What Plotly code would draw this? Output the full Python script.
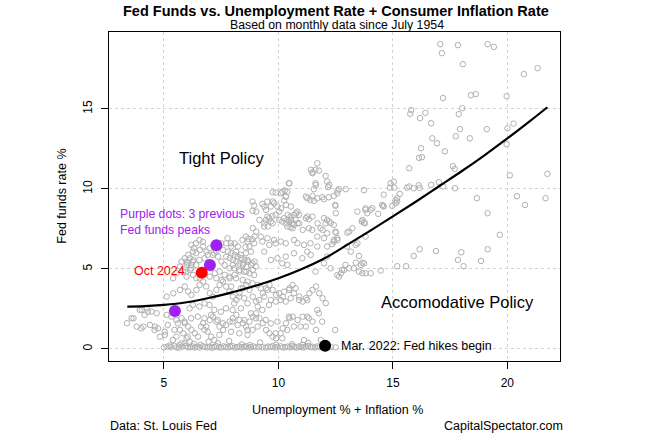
import plotly.graph_objects as go

# ---------------- data ----------------
# x = unemployment % + inflation %, y = fed funds rate %
hi_rate_x = [17.07,17.14,17.84,19.14,19.41,18.06,20.72,21.32,17.19,18.41,
             18.62,19.97,15.80,15.76,16.42,16.19,16.67,18.03,17.88,17.93,
             19.10,20.01,20.27,19.97,16.72,16.93,17.75,18.36,16.23,17.27,
             16.14,16.27,15.71,17.62,17.70,20.11,21.75,17.01,17.71,18.67,
             20.42,21.67,20.77,19.14,19.67,19.14,18.85,17.99,17.84,18.09,
             16.88,16.17,15.91,15.19,15.58,14.47,12.48]
hi_rate_y = [19.04,18.48,18.98,19.04,18.87,17.79,17.17,17.54,15.67,15.85,
             15.92,15.79,14.92,14.69,14.75,14.42,14.10,15.04,14.67,13.73,
             13.73,13.79,14.08,12.79,13.16,12.85,13.29,13.16,12.54,12.35,
             11.94,11.98,11.29,11.42,11.25,10.85,10.94,10.42,10.04,9.42,
             9.54,9.42,9.00,8.48,7.13,6.23,5.50,6.04,5.56,5.17,
             6.12,6.23,5.81,5.17,5.17,4.90,1.19]

mid_right_x = [12.22,12.58,12.94,13.74,14.90,15.04,14.87,15.06,14.60,15.30,
               15.62,15.91,16.17,15.71,16.13,16.67,17.20,15.12,15.19,15.12,
               14.53,14.60,14.10,14.03,13.80,13.88,13.45,13.67,13.74,13.23,
               13.09,13.00,13.37,12.48,12.51,13.81,14.36,14.58,14.97,15.19,
               12.22,12.29,12.51,12.43,12.58,13.01,13.64,13.78,13.81,13.45,
               13.16,13.52,13.38,13.67,13.60,13.74,13.09,12.87,12.73,12.65,
               13.52,13.67,13.81,14.03,13.30,12.93,12.28,12.13,11.99]
mid_right_y = [10.25,9.90,9.98,9.92,10.35,10.45,10.08,10.08,9.64,9.69,
               10.08,10.04,10.06,10.15,10.23,10.25,10.15,9.31,9.21,9.10,
               9.00,8.90,8.80,8.69,8.69,8.48,8.58,8.06,7.90,7.54,
               7.33,6.40,6.50,9.00,8.48,8.79,8.44,8.94,8.94,9.42,
               7.96,7.85,7.27,6.71,6.81,7.27,7.96,7.85,7.02,6.60,
               6.08,5.81,5.39,5.39,5.25,5.35,5.04,4.94,4.73,4.52,
               4.83,4.73,4.73,4.73,5.04,5.25,5.04,5.77,5.35]

upper_x = [11.70,11.62,11.48,11.77,12.06,12.13,12.17,11.62,11.55,10.46,
           10.17,10.39,10.32,10.25,9.88,11.26,11.40,11.55,11.70,11.91,
           11.99,12.20,12.42,12.57,12.64,12.49,8.87,8.94,8.87,9.30,
           9.38,9.52,9.67,9.81,9.96,10.03,9.88,9.74,9.60,9.45,
           9.52,9.67,9.38,10.25,10.39,10.53,10.68,10.83,10.90,10.75,
           10.61,10.46,10.32,10.17,10.68,10.83,10.39,10.53,11.26,11.33,
           11.99,12.13,12.06,12.42,12.49,12.57,12.42,11.99,11.84,12.13,
           11.33,11.48,11.70,7.78,7.93,8.43,8.58,8.65,8.73,8.87,
           8.94,9.23,9.30,9.52,9.60,9.81,9.88,10.10,10.32,10.68,
           10.83,11.12,11.40,11.70,12.13,12.35,9.75,9.46,10.12,10.33,
           10.55,9.03,9.17,9.39,9.54,9.75,10.04,10.40,10.55,10.77,
           10.91,10.62,11.06,11.20,11.49,11.71,11.93,9.75,10.12,10.28,
           10.48,10.33,11.49,11.42,11.64,11.20,11.49]
upper_y = [11.60,11.20,11.04,11.14,10.81,10.46,10.12,10.35,9.98,10.35,
           9.83,9.83,9.52,9.27,9.77,9.42,9.31,9.25,9.42,9.48,
           9.35,9.48,9.56,9.73,9.98,8.94,9.21,8.96,8.63,9.06,
           8.90,9.21,8.90,9.10,8.90,8.58,8.38,8.31,8.17,8.06,
           8.27,7.96,7.65,8.17,8.06,8.27,8.38,8.58,8.38,8.06,
           7.85,7.96,7.85,7.96,7.75,7.85,7.65,7.60,8.27,8.10,
           8.17,8.06,7.85,7.75,7.33,6.92,6.81,6.92,7.54,7.23,
           7.54,7.44,7.02,6.92,6.60,6.81,7.02,6.71,6.40,6.85,
           6.60,7.02,6.71,6.92,6.50,6.81,6.60,6.71,6.60,6.81,
           6.60,6.50,6.60,6.40,6.40,6.55,9.21,8.69,8.79,9.00,
           8.90,8.58,8.06,7.85,7.65,7.85,8.06,8.38,8.06,8.48,
           7.85,7.54,7.44,8.17,8.27,7.85,7.44,9.79,9.73,9.90,
           10.35,9.52,10.98,11.19,10.25,9.52,9.56]

center_x = [8.69,8.56,8.96,9.03,8.88,8.09,8.23,7.94,7.72,7.58,
            7.80,7.94,8.09,8.23,8.38,8.52,8.67,7.72,7.87,8.01,
            8.16,8.30,8.45,8.60,8.81,8.96,8.88,8.74,8.60,8.01,
            7.87,7.65,7.51,7.36,7.29,7.14,7.00,6.86,6.71,6.57,
            6.42,6.28,6.13,5.99,8.15,8.36,8.58,8.80,8.44,8.65,
            8.87,9.02,8.07,8.29,8.51,8.94,7.86,8.15,8.44,8.65,
            8.87,9.09,7.93,8.36,9.38,9.67,9.96,10.17,10.39,10.32,
            10.68,11.04,11.41,11.26,11.62,12.57,12.78,5.70,5.84,5.99,
            6.13,6.27,6.42,6.56,6.71,5.99,6.20,5.77,6.56,6.78,
            7.00,7.22,7.43,7.65,7.87,8.09,8.30,7.29,7.51,7.07,
            5.55,5.40,6.04,6.26,6.41,6.55,6.77,6.91,7.20,6.19,
            5.97,5.91,6.06,6.27,6.40,6.55,6.30,6.70,6.20,7.50,
            7.30]
center_y = [6.88,6.36,7.02,7.33,7.54,6.60,6.40,6.40,6.60,6.19,
            6.08,5.98,5.88,5.77,5.67,5.56,5.46,5.77,5.67,5.56,
            5.46,5.35,5.25,5.14,5.25,5.46,4.94,4.73,4.83,5.25,
            5.04,5.25,5.46,5.77,6.08,5.88,6.29,6.08,6.40,6.19,
            5.98,5.56,5.67,5.46,6.08,5.88,5.98,6.08,5.35,5.56,
            5.35,5.15,5.04,4.94,4.83,4.62,4.52,4.42,4.31,4.21,
            4.10,4.00,3.90,3.79,6.08,5.56,5.67,5.35,5.25,5.77,
            5.98,5.67,5.88,6.08,4.83,4.62,4.94,5.15,4.84,4.52,
            4.94,4.63,4.42,4.73,4.94,5.25,5.25,5.46,4.42,4.63,
            4.52,4.73,4.84,4.63,4.42,4.63,4.84,4.42,4.31,5.04,
            4.73,4.42,5.35,5.46,5.25,5.56,5.67,5.88,5.98,5.04,
            4.83,5.67,5.88,6.08,6.60,6.80,6.30,6.70,6.50,6.60,
            6.45]

low_mid_x = [9.23,9.52,9.38,9.16,9.67,9.88,10.10,10.32,10.54,10.68,
             10.75,10.46,10.25,10.03,10.90,11.26,9.59,9.30,9.09,8.65,
             8.51,8.29,8.07,8.00,8.36,8.80,9.02,9.45,9.67,9.96,
             10.46,11.26,11.33,11.70,11.77,11.91,10.68,10.17,10.10,9.88,
             10.39,10.97,11.12,9.09,8.65,8.22,8.00,8.51,7.93,8.29,
             8.65,8.87]
low_mid_y = [3.79,3.69,3.27,3.06,3.06,2.96,3.06,2.96,3.17,3.48,
             3.79,3.69,3.58,3.48,3.06,3.06,2.75,2.44,2.65,2.85,
             3.17,3.27,2.85,2.44,2.54,2.23,1.92,1.81,1.60,1.71,
             2.02,2.02,1.92,2.44,2.23,1.71,1.40,0.67,0.98,0.98,
             1.19,1.40,0.56,1.40,1.19,1.50,1.71,1.81,1.08,0.98,
             0.88,1.19]

low_left_x = [3.38,3.67,3.81,4.10,4.39,4.61,4.83,5.04,4.03,4.25,
              4.46,4.68,5.12,5.33,5.55,5.77,5.91,6.06,6.20,6.35,
              6.49,5.70,5.84,5.55,5.99,6.13,5.77,6.71,6.85,7.00,
              7.14,7.29,7.43,7.58,7.72,7.87,8.01,8.16,8.30,8.45,
              8.59,8.74,8.88,9.03,9.17,9.32,9.46,9.61,9.75,9.90,
              10.19,10.33,10.48,10.62,10.84,11.06,11.49,11.20,11.64,11.85,
              3.58,4.01,4.59,4.74,5.03,5.17,5.39,5.68,5.90,6.04,
              6.62,6.77,6.91,7.06,7.20,7.42,5.46,5.61,5.90,6.19,
              6.48,6.77,7.06,7.35,7.57,6.12,6.26,6.55,6.77,6.99,
              7.20,7.49,7.71,4.30,4.16,3.94]
low_left_y = [1.61,1.92,1.40,1.40,1.50,1.40,0.77,0.88,2.44,2.54,
              2.34,2.23,2.13,2.02,1.81,1.92,1.61,1.40,1.19,0.98,
              0.77,1.19,0.98,0.77,0.67,0.46,0.36,1.61,1.40,1.81,
              2.02,1.71,1.40,1.19,1.50,1.71,1.92,2.13,1.81,1.61,
              1.40,1.71,2.02,2.23,1.92,1.61,1.19,0.98,0.77,0.67,
              1.29,1.61,1.92,2.02,1.81,2.02,1.71,1.40,1.19,0.56,
              1.92,1.29,1.19,1.29,1.08,1.50,0.56,0.25,0.35,0.77,
              1.40,1.19,1.08,0.77,0.56,0.88,1.19,1.60,1.71,1.92,
              2.02,1.92,2.13,1.81,1.60,2.54,2.75,2.65,2.85,2.75,
              2.44,2.33,2.54,2.33,2.13,2.44]

band_x = [5.12,5.41,5.70,5.91,6.06,6.20,6.42,6.56,6.71,6.85,
          7.00,7.14,7.29,7.43,7.58,7.72,7.87,8.01,8.16,8.30,
          8.45,8.59,8.74,8.88,9.03,9.32,9.46,9.61,9.75,9.90,
          10.19,10.48,10.62,10.91,11.06,11.20,11.35,11.49,11.64,11.78,
          11.93,12.07]
band_y = [3.27,3.48,3.69,3.90,3.59,3.38,3.69,4.00,4.21,3.90,
          3.48,3.27,3.69,4.00,4.21,3.90,3.59,3.27,3.07,3.48,
          3.79,4.00,3.69,3.27,2.96,3.48,3.79,4.00,3.69,3.38,
          3.27,3.79,4.00,3.27,2.96,3.17,3.48,3.69,3.90,3.48,
          3.17,2.86]

zero_x = [5.00,5.15,5.30,5.45,5.55,5.65,5.80,5.95,6.05,6.15,
          6.25,6.35,6.45,6.55,6.70,6.80,6.90,7.00,7.10,7.20,
          7.30,7.40,7.50,7.60,7.70,7.80,7.90,8.00,8.10,8.20,
          8.30,8.40,8.50,8.60,8.70,8.80,8.90,9.00,9.15,9.30,
          9.45,9.55,9.65,9.75,9.85,9.95,10.10,10.20,10.30,10.40,
          10.50,10.60,10.70,10.80,10.90,11.00,11.10,11.20,11.30,11.40,
          11.50,11.60,11.70,11.80,11.90,12.30,12.50,6.30,7.35,8.40,
          9.20,10.60,11.30,6.95,7.85,5.25,6.60,8.75,9.90,11.05]
zero_y = [0.10,0.15,0.12,0.20,0.10,0.08,0.15,0.18,0.10,0.12,
          0.16,0.10,0.14,0.09,0.17,0.12,0.10,0.15,0.08,0.13,
          0.18,0.11,0.09,0.16,0.12,0.10,0.14,0.18,0.09,0.12,
          0.15,0.10,0.13,0.17,0.09,0.12,0.16,0.10,0.14,0.11,
          0.09,0.15,0.12,0.18,0.10,0.13,0.16,0.09,0.12,0.15,
          0.10,0.18,0.13,0.09,0.16,0.12,0.10,0.15,0.19,0.11,
          0.14,0.09,0.16,0.12,0.10,0.12,0.10,0.32,0.36,0.28,
          0.40,0.30,0.38,0.45,0.50,0.22,0.25,0.24,0.27,0.26]

# smoothed fit line
fit_x = [3.4, 4, 5, 6, 7, 8, 9, 10, 11, 12, 13, 14, 15, 16, 17, 18, 19, 20, 21, 21.75]
fit_y = [2.65, 2.66, 2.75, 2.92, 3.2, 3.55, 3.95, 4.42, 4.98, 5.65, 6.5, 7.38, 8.28,
         9.2, 10.15, 11.1, 12.1, 13.15, 14.25, 15.1]

# highlighted months
peaks_x = [5.48, 7.01, 7.29]
peaks_y = [2.37, 5.25, 6.48]
oct2024_x, oct2024_y = [6.65], [4.77]
mar2022_x, mar2022_y = [12.04], [0.2]

x_ticks = [5, 10, 15, 20]
y_ticks = [0, 5, 10, 15]

groups = [(hi_rate_x, hi_rate_y), (mid_right_x, mid_right_y), (upper_x, upper_y),
          (center_x, center_y), (low_mid_x, low_mid_y), (low_left_x, low_left_y),
          (band_x, band_y), (zero_x, zero_y)]
all_x, all_y = [], []
for gx, gy in groups:
    n = min(len(gx), len(gy))
    all_x += gx[:n]
    all_y += gy[:n]

FONT = "Liberation Sans, Arial, sans-serif"
PURPLE = "#A020F0"

fig = go.Figure()
fig.add_trace(go.Scatter(x=all_x, y=all_y, mode="markers",
                         marker=dict(symbol="circle-open", size=5.5,
                                     color="#b0b0b0", line=dict(width=1, color="#b0b0b0")),
                         hoverinfo="skip", showlegend=False))
fig.add_trace(go.Scatter(x=fit_x, y=fit_y, mode="lines", line=dict(color="black", width=2.2, shape="spline"),
                         showlegend=False))
fig.add_trace(go.Scatter(x=peaks_x, y=peaks_y, mode="markers",
                         marker=dict(size=12, color=PURPLE), showlegend=False))
fig.add_trace(go.Scatter(x=oct2024_x, y=oct2024_y, mode="markers",
                         marker=dict(size=12, color="#FF0000"), showlegend=False))
fig.add_trace(go.Scatter(x=mar2022_x, y=mar2022_y, mode="markers",
                         marker=dict(size=12, color="black"), showlegend=False))

ann = []
ann.append(dict(text="<b>Fed Funds vs. Unemployment Rate + Consumer Inflation Rate</b>",
                xref="paper", yref="paper", x=0.503, y=1.063, showarrow=False,
                font=dict(size=14.5, color="black", family=FONT), xanchor="center", yanchor="middle"))
ann.append(dict(text="Based on monthly data since July 1954",
                xref="paper", yref="paper", x=0.505, y=1.021, showarrow=False,
                font=dict(size=12.3, color="black", family=FONT), xanchor="center", yanchor="middle"))
ann.append(dict(text="Unemployment % + Inflation %", xref="paper", yref="paper", x=0.507, y=-0.149,
                showarrow=False, font=dict(size=12.5, color="black", family=FONT),
                xanchor="center", yanchor="middle"))
ann.append(dict(text="Fed funds rate %", xref="paper", yref="paper", x=-0.106, y=0.5, textangle=-90,
                showarrow=False, font=dict(size=12.5, color="black", family=FONT),
                xanchor="center", yanchor="middle"))
ann.append(dict(text="Data: St. Louis Fed", xref="paper", yref="paper", x=-0.002, y=-0.198,
                showarrow=False, font=dict(size=12.5, color="black", family=FONT),
                xanchor="left", yanchor="middle"))
ann.append(dict(text="CapitalSpectator.com", xref="paper", yref="paper", x=1.01, y=-0.198,
                showarrow=False, font=dict(size=12.5, color="black", family=FONT),
                xanchor="right", yanchor="middle"))
ann.append(dict(text="Tight Policy", x=7.52, y=11.94, showarrow=False,
                font=dict(size=16.5, color="black", family=FONT), xanchor="center", yanchor="middle"))
ann.append(dict(text="Accomodative Policy", x=17.83, y=2.94, showarrow=False,
                font=dict(size=16.5, color="black", family=FONT), xanchor="center", yanchor="middle"))
ann.append(dict(text="Purple dots: 3 previous<br>Fed funds peaks", x=3.0, y=7.95, showarrow=False,
                align="left", font=dict(size=12.2, color=PURPLE, family=FONT),
                xanchor="left", yanchor="middle"))
ann.append(dict(text="Oct 2024", x=6.0, y=4.85, showarrow=False,
                font=dict(size=12.5, color="#FF0000", family=FONT), xanchor="right", yanchor="middle"))
ann.append(dict(text="Mar. 2022: Fed hikes begin", x=12.65, y=0.19, showarrow=False,
                font=dict(size=12.5, color="black", family=FONT), xanchor="left", yanchor="middle"))

fig.update_layout(
    width=652, height=441,
    margin=dict(l=109, r=92, t=32, b=80),
    paper_bgcolor="white", plot_bgcolor="white",
    font=dict(family=FONT, size=12, color="black"),
    annotations=ann, showlegend=False,
)
axis_common = dict(showline=True, linecolor="black", linewidth=1, mirror=True,
                   ticks="outside", ticklen=7, tickwidth=1, tickcolor="black",
                   showgrid=True, gridcolor="#d3d3d3", griddash="dot", gridwidth=1,
                   zeroline=False, tickfont=dict(size=12, family=FONT, color="black"),
                   ticklabelstandoff=4)
fig.update_xaxes(range=[2.6, 22.3], tickvals=x_ticks, ticktext=[str(v) for v in x_ticks],
                 **axis_common)
fig.update_yaxes(range=[-0.75, 19.8], tickvals=y_ticks, ticktext=[str(v) for v in y_ticks],
                 tickangle=-90, **axis_common)

# remove the browser's default 8px page margin so the figure sits at the window's corner
fig.write_html("out.html", config={"displayModeBar": False},
               post_script="document.body.style.margin='0';")
